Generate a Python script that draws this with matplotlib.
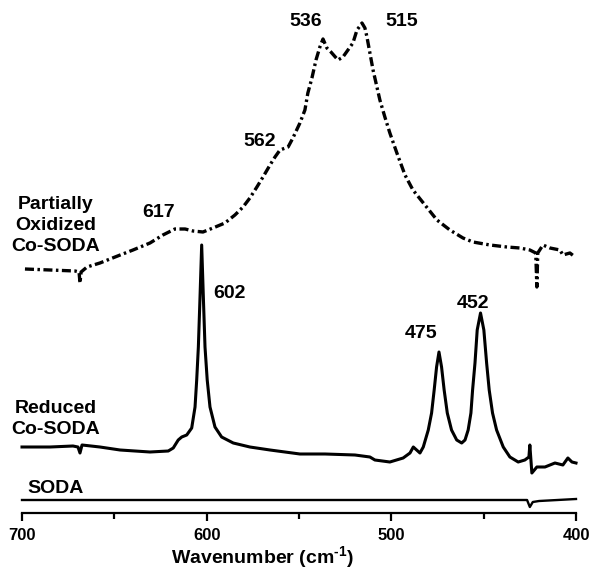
import numpy as np
import matplotlib
matplotlib.use("Agg")
import matplotlib.pyplot as plt

plt.rcParams['font.family'] = ['Liberation Sans', 'DejaVu Sans']
plt.rcParams['font.weight'] = 'bold'
plt.rcParams['mathtext.fontset'] = 'custom'
plt.rcParams['mathtext.rm'] = 'Liberation Sans:bold'
plt.rcParams['mathtext.bf'] = 'Liberation Sans:bold'
plt.rcParams['lines.scale_dashes'] = False

# Partially oxidized Co-SODA (offset trace, arbitrary units)
ox_wn = [698.4, 684.8, 671.3, 669.1, 668.6, 668.0, 664.8, 657.8, 649.6, 639.9,
         630.7, 623.7, 617.2, 611.7, 607.4, 602.0, 596.6, 590.1, 584.7, 580.3,
         576.6, 572.8, 569.5, 565.7, 563.0, 560.3, 555.9, 553.3, 549.5, 546.8,
         545.2, 543.0, 540.8, 538.7, 537.0, 534.9, 532.7, 528.9, 526.2, 523.5,
         520.8, 518.6, 517.0, 515.9, 514.3, 513.2, 511.6, 509.9, 507.8, 506.2,
         503.5, 500.8, 497.0, 492.6, 488.3, 481.8, 475.3, 468.3, 461.2, 455.8,
         446.6, 437.4, 430.4, 425.0, 421.8, 421.2, 420.7, 417.9, 414.1, 408.7,
         407.1, 403.3, 400.5]
ox_int = [244, 243, 242, 241, 230, 241, 246, 250, 256, 263,
          270, 278, 284, 284, 282, 281, 285, 290, 298, 306,
          315, 326, 336, 348, 356, 363, 366, 375, 390, 403,
          420, 435, 453, 466, 474, 465, 461, 453, 456, 463,
          470, 483, 487, 490, 485, 476, 460, 443, 426, 413,
          396, 380, 360, 338, 323, 308, 293, 283, 275, 271,
          268, 266, 265, 263, 260, 226, 260, 268, 265, 263,
          258, 260, 256]

# Reduced Co-SODA
red_wn = [700.0, 684.8, 672.4, 669.7, 668.6, 667.5, 657.8, 646.9, 630.7, 620.8,
          618.1, 615.4, 613.5, 610.8, 608.1, 606.3, 605.4, 604.5, 603.6, 602.7,
          601.8, 600.9, 599.7, 598.2, 595.5, 591.9, 585.6, 576.6, 565.7, 549.5,
          535.9, 519.7, 511.6, 508.9, 500.8, 493.6, 489.9, 488.1, 484.5, 482.7,
          480.0, 478.2, 476.8, 475.5, 474.2, 472.8, 471.4, 469.7, 467.4, 464.6,
          461.9, 460.1, 458.4, 456.9, 456.0, 454.7, 453.5, 451.7, 449.9, 448.4,
          447.0, 445.2, 443.0, 439.4, 435.8, 431.3, 427.7, 425.5, 425.0, 423.9,
          421.2, 416.8, 411.4, 407.1, 404.4, 402.2, 400.0]
red_int = [66, 66, 67, 66, 60, 68, 66, 63, 61, 62,
           65, 73, 76, 78, 85, 106, 133, 166, 216, 268,
           216, 166, 133, 106, 86, 76, 70, 66, 63, 59,
           59, 58, 56, 53, 51, 55, 60, 66, 60, 66,
           83, 100, 123, 146, 161, 146, 123, 100, 83, 73,
           70, 73, 83, 100, 123, 150, 183, 200, 183, 150,
           123, 100, 83, 66, 56, 51, 53, 56, 68, 40,
           46, 46, 50, 48, 55, 51, 50]

# SODA
soda_wn = [700.0, 650.0, 600.0, 550.0, 500.0, 450.0, 430.0, 426.5, 425.0, 423.4, 420.0, 410.0, 400.0]
soda_int = [13, 13, 13, 13, 13, 13, 13, 13, 6, 11, 12, 13, 14]

peak_labels = ['617', '562', '536', '515', '602', '475', '452']
peak_x = [625.8, 571.1, 546.2, 494.3, 587.4, 484.0, 455.8]
peak_y = [296, 367, 487, 487, 215, 175, 205]

fig = plt.figure(figsize=(6.0, 5.82), dpi=100)
ax = fig.add_axes([22 / 600, 69 / 582, 554 / 600, 513 / 582])

ax.plot(ox_wn, ox_int, color='black', lw=2.4, dashes=(6.5, 2.5, 1.8, 2.5),
        dash_capstyle='butt', clip_on=False)
ax.plot(red_wn, red_int, color='black', lw=2.2, clip_on=False)
ax.plot(soda_wn, soda_int, color='black', lw=1.7, clip_on=False)

for lab, px, py in zip(peak_labels, peak_x, peak_y):
    ax.text(px, py, lab, ha='center', va='baseline', fontsize=14, fontweight='bold')

ax.text(681.6, 317, 'Partially\nOxidized\nCo-SODA', ha='center', va='top',
        multialignment='center', fontsize=14, fontweight='bold', linespacing=1.3)
ax.text(681.6, 113, 'Reduced\nCo-SODA', ha='center', va='top',
        multialignment='center', fontsize=14, fontweight='bold', linespacing=1.3)
ax.text(681.6, 20, 'SODA', ha='center', va='baseline', fontsize=14, fontweight='bold')

ax.set_xlim(700, 400)
ax.set_ylim(0, 513)
ax.set_xticks([700, 600, 500, 400])
ax.set_xticks([650, 550, 450], minor=True)
ax.set_yticks([])
for s in ['left', 'right', 'top']:
    ax.spines[s].set_visible(False)
ax.spines['bottom'].set_linewidth(1.6)
ax.tick_params(axis='x', which='major', length=6, width=1.6, pad=5, labelsize=12)
ax.tick_params(axis='x', which='minor', length=4, width=1.6)
ax.set_xlabel(r'Wavenumber (cm$^{\text{-1}}$)', fontsize=14, fontweight='bold', labelpad=1)
ax.xaxis.label.set_x(0.434)

fig.savefig('out.png', dpi=100)
